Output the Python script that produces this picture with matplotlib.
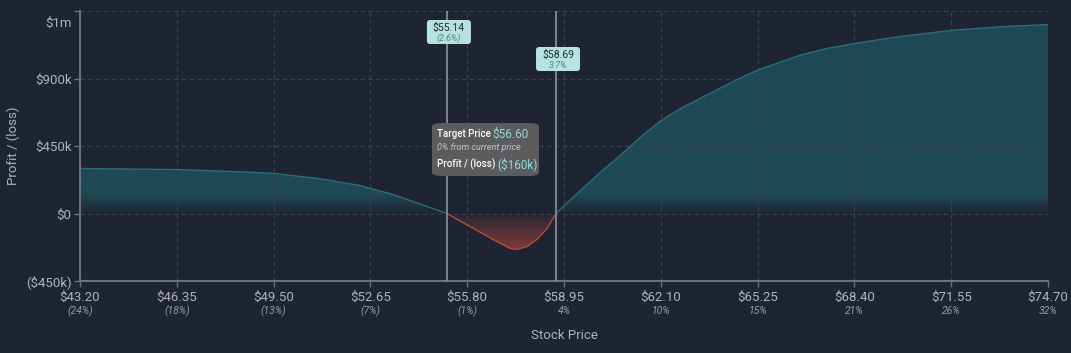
import numpy as np
import matplotlib
matplotlib.use("Agg")
import matplotlib.pyplot as plt
from matplotlib.colors import to_rgb
from matplotlib.patches import FancyBboxPatch
from matplotlib.transforms import ScaledTranslation, blended_transform_factory

plt.rcParams['font.family'] = ['Roboto', 'DejaVu Sans']

# stock price ($) and profit / (loss) in $k
price = [43.20, 46.35, 47.90, 49.50, 51.00, 52.30, 52.65, 53.39, 54.49, 55.14,
         55.89, 56.64, 57.19, 57.42, 57.75, 58.07, 58.40, 58.59, 58.69,
         59.57, 60.12, 60.67, 61.03, 61.50, 62.07, 62.70, 63.38, 64.58, 65.23,
         65.65, 66.63, 67.50, 68.39, 69.88, 71.54, 73.14, 74.70]
pnl = [300, 293, 282, 268, 232, 187, 167, 127, 47, 0,
       -87, -173, -233, -240, -220, -173, -100, -33, 0,
       170, 272, 368, 432, 520, 613, 695, 767, 893, 953,
       985, 1055, 1100, 1133, 1180, 1220, 1245, 1260]

xticks = [43.20, 46.35, 49.50, 52.65, 55.80, 58.95, 62.10, 65.25, 68.40, 71.55, 74.70]
xtick_pct = ["(24%)", "(18%)", "(13%)", "(7%)", "(1%)", "4%", "10%", "15%", "21%", "26%", "32%"]
yticks = [-450, 0, 450, 900, 1350]
ytick_labels = ["($450k)", "$0", "$450k", "$900k", "$1m"]

breakevens = [55.14, 58.69]
breakeven_pct = ["(2.6%)", "3.7%"]
target_price = 56.60
target_pnl = "($160k)"

BG = "#1f2433"
GRID = "#3b4252"
AXIS = "#6b707c"
TXT = "#aeb3bd"
TEAL = "#1e4955"
RED = "#7d3a38"
BOX = "#b5e3df"


def main():
    x = np.array(price)
    y = np.array(pnl, dtype=float)

    fig = plt.figure(figsize=(10.71, 3.53), dpi=100)
    fig.patch.set_facecolor(BG)
    ax = fig.add_axes([80 / 1071, 72 / 353, 968 / 1071, 270 / 353])
    ax.set_facecolor(BG)
    ax.set_xlim(43.20, 74.70)
    ax.set_ylim(-450, 1350)

    # gradient fill, positive part (teal fading out near zero)
    bg = np.array(to_rgb(BG))
    ygrid = np.linspace(-450, 1350, 600)
    t = np.clip(ygrid / 130.0, 0, 1)
    col = bg[None, :] * (1 - t[:, None]) + np.array(to_rgb(TEAL))[None, :] * t[:, None]
    img = np.repeat(col[:, None, :], 2, axis=1)
    poly = ax.fill_between(x, 0, np.maximum(y, 0), color="none", lw=0)
    im = ax.imshow(img, extent=[43.20, 74.70, -450, 1350], origin="lower",
                   aspect="auto", zorder=1)
    im.set_clip_path(poly.get_paths()[0], transform=ax.transData)

    # negative part (red getting stronger with depth)
    t2 = np.clip(-ygrid / 240.0, 0, 1) ** 0.8
    col2 = bg[None, :] * (1 - t2[:, None]) + np.array(to_rgb(RED))[None, :] * t2[:, None]
    img2 = np.repeat(col2[:, None, :], 2, axis=1)
    poly2 = ax.fill_between(x, np.minimum(y, 0), 0, color="none", lw=0)
    im2 = ax.imshow(img2, extent=[43.20, 74.70, -450, 1350], origin="lower",
                    aspect="auto", zorder=1)
    im2.set_clip_path(poly2.get_paths()[0], transform=ax.transData)

    ax.plot(x, np.ma.masked_where(y < 0, y), color="#2b6d76", lw=1, zorder=2)
    ax.plot(x, np.ma.masked_where(y > 0, y), color="#b04a3e", lw=1, zorder=2)

    # axes / grid
    ax.set_xticks(xticks)
    ax.set_xticklabels(["$%.2f" % v for v in xticks])
    ax.set_yticks(yticks)
    ax.set_yticklabels(ytick_labels)
    ax.grid(True, color=GRID, linestyle=(0, (4, 3)), lw=0.8, zorder=0)
    for s in ["top", "right"]:
        ax.spines[s].set_visible(False)
    for s in ["left", "bottom"]:
        ax.spines[s].set_color(AXIS)
        ax.spines[s].set_linewidth(1.5)
    ax.tick_params(colors=AXIS, labelcolor=TXT, labelsize=9.5, length=4, width=1)
    ax.tick_params(axis="x", pad=3)
    ax.tick_params(axis="y", pad=2)
    # top label sits a bit below its tick
    lbl = ax.get_yticklabels()[-1]
    lbl.set_transform(lbl.get_transform() + ScaledTranslation(0, -11 / 100, fig.dpi_scale_trans))

    tr = blended_transform_factory(ax.transData, ax.transAxes)
    for xv, p in zip(xticks, xtick_pct):
        ax.annotate(p, (xv, 0), xycoords=tr, xytext=(0, -30 * 0.72),
                    textcoords="offset points", ha="center", va="center",
                    fontsize=7.5, style="italic", color="#969ba6")

    ax.set_xlabel("Stock Price", color=TXT, fontsize=9.5, labelpad=18)
    ax.set_ylabel("Profit / (loss)", color=TXT, fontsize=9.5, labelpad=4)

    # breakeven lines with labels (box top in px below axes top)
    box_top = [9, 36]
    for bx, pct, bt in zip(breakevens, breakeven_pct, box_top):
        ax.axvline(bx, color="#868c96", lw=1.3, zorder=3)
        anchor = ScaledTranslation(bx, 1.0, tr)
        box = FancyBboxPatch((-22 / 100 + 2 / 100, -(bt + 24) / 100), 44 / 100, 24 / 100,
                             boxstyle="round,pad=0,rounding_size=0.03",
                             transform=fig.dpi_scale_trans + anchor,
                             fc=BOX, ec="none", zorder=5, clip_on=False)
        ax.add_patch(box)
        ax.annotate("$%.2f" % bx, (bx, 1.0), xycoords=tr,
                    xytext=(2 * 0.72, -(bt + 8) * 0.72), textcoords="offset points",
                    ha="center", va="center", fontsize=7.5, color="#1f2a2e", zorder=6)
        ax.annotate(pct, (bx, 1.0), xycoords=tr,
                    xytext=(2 * 0.72, -(bt + 18) * 0.72), textcoords="offset points",
                    ha="center", va="center", fontsize=6.5, style="italic",
                    color="#6e7a7c", zorder=6)

    # tooltip
    fig.patches.append(FancyBboxPatch(
        (432 / 1071, (353 - 176) / 353), 107 / 1071, 53 / 353,
        boxstyle="round,pad=0,rounding_size=0.01", transform=fig.transFigure,
        fc="#5c5c5e", ec="none", zorder=10))
    fig.text(437 / 1071, (353 - 134) / 353, "Target Price", color="white",
             fontsize=7, fontweight="medium", va="center", zorder=11)
    fig.text(492 / 1071, (353 - 134) / 353, "$%.2f" % target_price, color="#93dcd5",
             fontsize=8.5, va="center", zorder=11)
    fig.text(437 / 1071, (353 - 148) / 353, "0% from current price", color="#c0c4c8",
             fontsize=6.5, style="italic", va="center", zorder=11)
    fig.text(437 / 1071, (353 - 164) / 353, "Profit / (loss)", color="white",
             fontsize=7, fontweight="medium", va="center", zorder=11)
    fig.text(497 / 1071, (353 - 164) / 353, target_pnl, color="#93dcd5",
             fontsize=8.5, va="center", zorder=11)

    fig.savefig("out.png", dpi=100, facecolor=BG)


if __name__ == "__main__":
    main()
